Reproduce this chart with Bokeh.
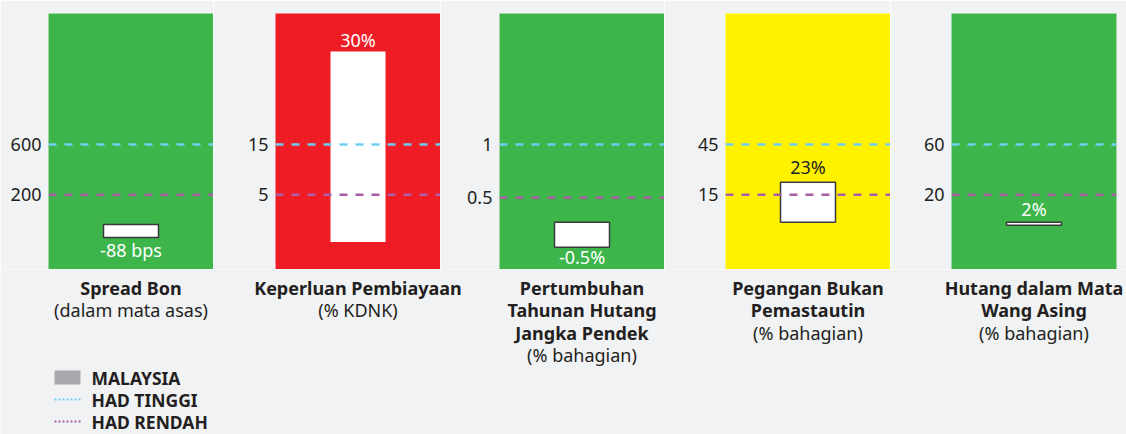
from bokeh.plotting import figure
from bokeh.layouts import row, column
from bokeh.models import Span, FixedTicker, Range1d, FactorRange
from bokeh.core.properties import value
from bokeh.embed import file_html
from bokeh.resources import INLINE

# ---------------- data ----------------
panel_keys = ["spread", "keperluan", "pertumbuhan", "pegangan", "hutang"]
title_lines = [["Spread Bon"],
               ["Keperluan Pembiayaan"],
               ["Pertumbuhan", "Tahunan Hutang", "Jangka Pendek"],
               ["Pegangan Bukan", "Pemastautin"],
               ["Hutang dalam Mata", "Wang Asing"]]
unit_lines = ["(dalam mata asas)", "(% KDNK)", "(% bahagian)", "(% bahagian)", "(% bahagian)"]
status = ["hijau", "merah", "hijau", "kuning", "hijau"]
malaysia_values = [-88, 30, -0.5, 23, 2]
value_suffix = [" bps", "%", "%", "%", "%"]
had_tinggi = [600, 15, 1, 45, 60]
had_rendah = [200, 5, 0.5, 15, 20]
bar_bottom = [-140, -4.4, 0.037, -1.3, -4.2]
bar_top = [-36, 33.5, 0.271, 22.5, -1.8]
legend_labels = ["MALAYSIA", "HAD TINGGI", "HAD RENDAH"]

# ---------------- styles / layout ----------------
BG = "#f1f2f4"
TEXT = "#231f20"
STATUS_COLORS = {"hijau": "#3db54b", "merah": "#ee1d25", "kuning": "#fff200"}
HIGH_C = "#6dcff6"
LOW_C = "#a95ea6"
GREY = "#a7a9ac"
FONT = value("Noto Sans")

FRAME_W, FRAME_H = 165, 256
TOP_B = 13
LEFT_B = [48, 62, 59, 61, 61]
RIGHT_B = [0, 0, 0, 0, 10]
HIGH_PX = 131.0
LOW_PX = [181.3, 181.3, 184.3, 181.3, 181.3]
label_offset = [12, -11, 10, -15, -13.5]
label_color = ["white", "white", "white", TEXT, "white"]
bar_line = ["#3a3a3a", None, "#3a3a3a", "#3a3a3a", "#3a3a3a"]

panels = []
centers = []
xpos = 0
for i, key in enumerate(panel_keys):
    H, L = had_tinggi[i], had_rendah[i]
    u = (H - L) / (LOW_PX[i] - HIGH_PX)
    y_end = H + HIGH_PX * u
    y_start = L - (FRAME_H - LOW_PX[i]) * u
    p = figure(frame_width=FRAME_W, frame_height=FRAME_H,
               x_range=FactorRange(factors=[key], range_padding=0),
               y_range=Range1d(y_start, y_end),
               x_axis_location=None, y_axis_location="left",
               output_backend="svg", toolbar_location=None,
               min_border_left=LEFT_B[i], min_border_right=RIGHT_B[i],
               min_border_top=TOP_B, min_border_bottom=0,
               background_fill_color=STATUS_COLORS[status[i]],
               border_fill_color=BG, outline_line_color=None)
    p.grid.grid_line_color = None
    ax = p.yaxis[0]
    ax.ticker = FixedTicker(ticks=[L, H])
    ax.major_label_overrides = {L: f"{L:g}", H: f"{H:g}"}
    ax.axis_line_color = None
    ax.major_tick_line_color = None
    ax.minor_tick_line_color = None
    ax.major_tick_out = 0
    ax.major_label_standoff = 7
    ax.major_label_text_font = "Noto Sans"
    ax.major_label_text_font_size = "18px"
    ax.major_label_text_color = TEXT

    p.add_layout(Span(location=H, dimension="width", line_color=HIGH_C,
                      line_width=2.5, line_dash="8 8"))
    p.add_layout(Span(location=L, dimension="width", line_color=LOW_C,
                      line_width=2.5, line_dash="8 8"))

    p.vbar(x=[key], width=1 / 3, bottom=[bar_bottom[i]], top=[bar_top[i]],
           fill_color="white", line_color=bar_line[i], line_width=1.5)

    txt = f"{malaysia_values[i]:g}{value_suffix[i]}"
    ly = bar_bottom[i] if label_offset[i] > 0 else bar_top[i]
    p.text(x=[key], y=[ly], text=[txt], y_offset=label_offset[i],
           text_align="center", text_baseline="middle", text_font=FONT,
           text_font_size="18px", text_color=label_color[i])
    panels.append(p)

    centers.append(xpos + LEFT_B[i] + FRAME_W / 2)
    xpos += LEFT_B[i] + FRAME_W + RIGHT_B[i]

TOTAL_W = xpos
BOT_TOP = TOP_B + FRAME_H
BOT_BOTTOM = 434

b = figure(width=TOTAL_W, height=BOT_BOTTOM - BOT_TOP,
           x_range=Range1d(0, TOTAL_W), y_range=Range1d(BOT_BOTTOM, BOT_TOP),
           x_axis_location=None, y_axis_location=None,
           output_backend="svg", toolbar_location=None,
           min_border_left=0, min_border_right=0, min_border_top=0, min_border_bottom=0,
           background_fill_color=BG, border_fill_color=BG, outline_line_color=None)
b.grid.grid_line_color = None

LINE_H = 22.5
FIRST_Y = 287
bx, by, bt, ux, uy, ut = [], [], [], [], [], []
for i in range(len(panel_keys)):
    for k, line in enumerate(title_lines[i]):
        bx.append(centers[i]); by.append(FIRST_Y + k * LINE_H); bt.append(line)
    ux.append(centers[i]); uy.append(FIRST_Y + len(title_lines[i]) * LINE_H); ut.append(unit_lines[i])
b.text(x=bx, y=by, text=bt, text_align="center", text_baseline="middle",
       text_font=FONT, text_font_size="18px", text_font_style="bold", text_color=TEXT)
b.text(x=ux, y=uy, text=ut, text_align="center", text_baseline="middle",
       text_font=FONT, text_font_size="18px", text_color=TEXT)

# legend
LEG_X0, LEG_X1, LEG_TX = 54, 80, 91
leg_y = [377, 399, 421]
b.quad(left=[LEG_X0], right=[LEG_X1], top=[leg_y[0] - 7], bottom=[leg_y[0] + 7],
       fill_color=GREY, line_color=None)
b.segment(x0=[LEG_X0], x1=[LEG_X1], y0=[leg_y[1]], y1=[leg_y[1]],
          line_color=HIGH_C, line_width=2, line_dash="2 2")
b.segment(x0=[LEG_X0], x1=[LEG_X1], y0=[leg_y[2]], y1=[leg_y[2]],
          line_color=LOW_C, line_width=2, line_dash="2 2")
b.text(x=[LEG_TX] * 3, y=leg_y, text=legend_labels, text_align="left",
       text_baseline="middle", text_font=FONT, text_font_size="17.5px",
       text_font_style="bold", text_color=TEXT)

layout = column(row(*panels), b)
open("out.html", "w").write(file_html(layout, INLINE))
